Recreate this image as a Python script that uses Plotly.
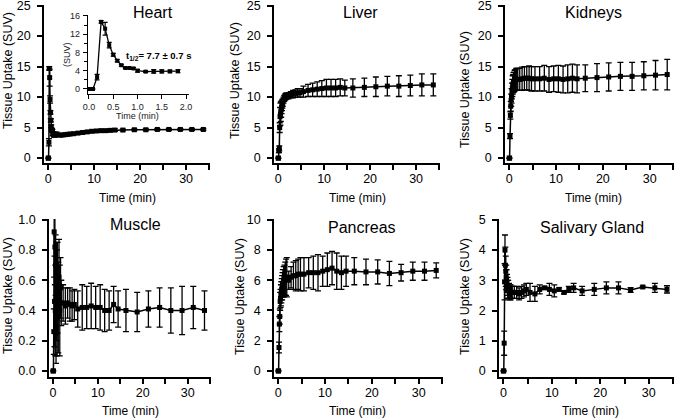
import plotly.graph_objects as go

W, H = 675, 419

# ---------------- data ----------------
time_min = [0, 0.083, 0.167, 0.25, 0.333, 0.417, 0.5, 0.583, 0.667, 0.75, 0.833, 0.917,
            1.0, 1.167, 1.333, 1.5, 1.667, 1.833,
            2.25, 2.75, 3.25, 3.75, 4.25, 4.75,
            5.5, 6.5, 7.5, 8.5, 9.5, 10.5, 11.5, 12.5, 13.5, 14.5,
            16.25, 18.75, 21.25, 23.75, 26.25, 28.75, 31.25, 33.75]

heart = [0, 0, 2.6, 14.7, 13.2, 9.6, 7.5, 6.2, 5.2, 4.6, 4.6, 4.5,
         4.0, 3.8, 3.85, 3.85, 3.85, 3.9,
         3.8, 3.75, 3.8, 3.85, 3.9, 3.95,
         4.0, 4.1, 4.2, 4.3, 4.4, 4.45, 4.5, 4.5, 4.55, 4.6,
         4.6, 4.65, 4.65, 4.7, 4.7, 4.7, 4.7, 4.7]
heart_err = [0, 0, 0.6, 0.3, 1.4, 0.6, 0.3, 0.25, 0.2, 0.15, 0.15, 0.2,
             0.3, 0.15, 0.4, 0.35, 0.3, 0.35,
             0.2, 0.2, 0.2, 0.2, 0.2, 0.2,
             0.2, 0.2, 0.2, 0.2, 0.2, 0.2, 0.2, 0.2, 0.2, 0.2,
             0.15, 0.15, 0.15, 0.15, 0.15, 0.15, 0.15, 0.15]

liver = [0, 0, 1.2, 1.6, 5.0, 6.8, 7.2, 7.6, 8.0, 8.3, 8.6, 8.9,
         9.1, 9.5, 9.8, 10.0, 10.1, 10.2,
         10.2, 10.4, 10.5, 10.6, 10.7, 10.7,
         10.9, 11.1, 11.2, 11.3, 11.4, 11.5, 11.5, 11.5, 11.6, 11.5,
         11.5, 11.6, 11.7, 11.8, 11.8, 11.9, 12.0, 12.0]
liver_err = [0, 0, 0.3, 0.4, 0.8, 1.5, 1.8, 1.6, 1.3, 1.0, 0.8, 0.7,
             0.6, 0.5, 0.5, 0.5, 0.5, 0.5,
             0.5, 0.5, 0.6, 0.6, 0.7, 0.7,
             0.9, 1.0, 1.1, 1.2, 1.3, 1.4, 1.4, 1.4, 1.4, 1.3,
             1.5, 1.5, 1.6, 1.6, 1.7, 1.7, 1.8, 1.8]

kidneys = [0, 0, 3.6, 7.0, 8.5, 9.5, 10.2, 11.0, 11.5, 12.0, 12.2, 12.4,
           12.5, 12.7, 12.8, 12.9, 12.9, 12.9,
           12.9, 13.0, 13.1, 13.1, 13.1, 13.0,
           13.0, 13.0, 13.1, 12.9, 13.0, 13.0, 12.9, 13.0, 13.1, 13.0,
           13.1, 13.2, 13.3, 13.4, 13.4, 13.5, 13.6, 13.7]
kidneys_err = [0, 0, 0.4, 0.6, 0.8, 1.0, 1.2, 1.3, 1.4, 1.5, 1.5, 1.6,
               1.6, 1.7, 1.7, 1.8, 1.8, 1.8,
               1.8, 1.9, 1.9, 1.9, 2.0, 2.0,
               2.0, 2.0, 2.1, 2.1, 2.1, 2.2, 2.2, 2.3, 2.3, 2.3,
               2.2, 2.3, 2.3, 2.3, 2.3, 2.3, 2.4, 2.5]

muscle = [0, 0, 0.26, 0.92, 0.46, 0.82, 0.40, 0.70, 0.25, 0.60, 0.50, 0.35,
          0.55, 0.42, 0.62, 0.40, 0.55, 0.45,
          0.45, 0.43, 0.45, 0.44, 0.43, 0.44,
          0.41, 0.42, 0.42, 0.43, 0.42, 0.42, 0.40, 0.40, 0.44, 0.41,
          0.40, 0.39, 0.41, 0.42, 0.40, 0.40, 0.42, 0.40]
muscle_err = [0, 0, 0.15, 0.3, 0.3, 0.25, 0.3, 0.2, 0.2, 0.25, 0.3, 0.25,
              0.3, 0.3, 0.25, 0.3, 0.2, 0.15,
              0.12, 0.12, 0.1, 0.11, 0.1, 0.1,
              0.12, 0.15, 0.14, 0.15, 0.14, 0.15, 0.14, 0.13, 0.12, 0.12,
              0.14, 0.13, 0.12, 0.13, 0.15, 0.16, 0.14, 0.13]

pancreas = [0, 0, 1.55, 3.1, 3.6, 4.6, 4.8, 5.0, 5.2, 5.4, 5.5, 5.7,
            5.8, 5.9, 6.0, 6.1, 6.2, 6.2,
            6.0, 6.2, 6.3, 6.3, 6.4, 6.4,
            6.4, 6.5, 6.5, 6.5, 6.6, 6.7, 6.8, 6.6, 6.5, 6.6,
            6.6, 6.55, 6.55, 6.45, 6.5, 6.6, 6.6, 6.65]
pancreas_err = [0, 0, 0.35, 0.5, 0.5, 0.6, 0.6, 0.7, 0.7, 0.7, 0.8, 0.8,
                0.9, 1.0, 1.0, 1.1, 1.2, 1.3,
                0.6, 0.7, 0.9, 1.0, 1.0, 1.1,
                1.1, 1.0, 1.1, 1.2, 1.0, 1.1, 1.1, 1.2, 1.1, 1.0,
                0.9, 0.85, 0.8, 0.8, 0.55, 0.6, 0.6, 0.5]

salivary = [0, 0, 0.92, 2.95, 4.0, 3.5, 3.3, 3.1, 3.0, 2.9, 2.8, 2.7,
            2.7, 2.65, 2.6, 2.6, 2.6, 2.6,
            2.6, 2.6, 2.55, 2.6, 2.65, 2.7,
            2.6, 2.55, 2.7, 2.75, 2.7, 2.65, 2.7, 2.6, 2.7, 2.75,
            2.65, 2.7, 2.75, 2.75, 2.68, 2.78, 2.75, 2.7]
salivary_err = [0, 0, 0.4, 0.6, 0.5, 0.6, 0.5, 0.4, 0.35, 0.3, 0.3, 0.3,
                0.3, 0.25, 0.25, 0.25, 0.2, 0.2,
                0.2, 0.2, 0.2, 0.2, 0.2, 0.2,
                0.3, 0.25, 0.15, 0.05, 0.2, 0.2, 0.05, 0.05, 0.1, 0.15,
                0.15, 0.2, 0.2, 0.2, 0.08, 0.03, 0.15, 0.12]

inset_n = 18  # heart points shown in the inset (first 2 minutes)

titles = ["Heart", "Liver", "Kidneys", "Muscle", "Pancreas", "Salivary Gland"]
series = [heart, liver, kidneys, muscle, pancreas, salivary]
errors = [heart_err, liver_err, kidneys_err, muscle_err, pancreas_err, salivary_err]
y_ranges = [[-0.8, 25.1], [-0.8, 25.1], [-0.8, 25.1], [-0.04, 1.005], [-0.4, 10.05], [-0.2, 5.03]]
y_dticks = [5, 5, 5, 0.2, 2, 1]
y_tickformat = ["d", "d", "d", ".1f", "d", "d"]
x_range = [-0.9, 35.2]

# ---------------- layout geometry (pixels) ----------------
# (left, right, top, bottom) of each plot area
boxes = [(44, 210, 5, 163), (274, 440, 5, 163), (505, 674, 5, 163),
         (49, 211, 219, 377), (274, 443, 219, 377), (499, 674, 219, 377)]
title_pos = [(153, 12), (360, 12), (593, 13), (135, 224), (362, 227), (592, 227)]
ytitle_pos = [(8, 71), (235, 81), (465, 90), (8, 296), (240, 297), (465, 297)]
xtitle_pos = [(127, 198), (357, 198), (593, 198), (130, 411), (357, 411), (590, 411)]

FONT = "Liberation Sans, Arial, sans-serif"
BLACK = "#000000"


def px(x):
    return x / W


def py(y):
    return 1 - y / H


fig = go.Figure()
annotations = []
layout = {}

for i in range(6):
    n = i + 1
    xa = "xaxis" if n == 1 else f"xaxis{n}"
    ya = "yaxis" if n == 1 else f"yaxis{n}"
    xr = "x" if n == 1 else f"x{n}"
    yr = "y" if n == 1 else f"y{n}"
    l, r, t, b = boxes[i]
    fig.add_trace(go.Scatter(
        x=time_min, y=series[i], xaxis=xr, yaxis=yr, mode="lines+markers",
        line=dict(color=BLACK, width=1.5),
        marker=dict(symbol="square", size=5, color=BLACK),
        error_y=dict(type="data", array=errors[i], visible=True,
                     color=BLACK, thickness=1.3, width=3),
        showlegend=False, cliponaxis=False))
    layout[xa] = dict(domain=[px(l), px(r)], anchor=yr, range=x_range, automargin=False,
                      showline=True, linecolor=BLACK, linewidth=1.5,
                      ticks="outside", ticklen=5, tickwidth=1.5, tickcolor=BLACK,
                      tickvals=[0, 10, 20, 30], ticklabelstandoff=-2,
                      ticklabeloverflow="allow",
                      minor=dict(tickvals=[5, 15, 25, 35], ticks="outside", ticklen=5,
                                 tickwidth=1.5, tickcolor=BLACK),
                      showgrid=False, zeroline=False,
                      tickfont=dict(family=FONT, size=12.5, color=BLACK))
    layout[ya] = dict(domain=[py(b), py(t)], anchor=xr, range=y_ranges[i], automargin=False,
                      showline=True, linecolor=BLACK, linewidth=1.5,
                      ticks="outside", ticklen=5, tickwidth=1.5, tickcolor=BLACK,
                      dtick=y_dticks[i], tick0=0, tickformat=y_tickformat[i],
                      ticklabelstandoff=4, ticklabeloverflow="allow",
                      showgrid=False, zeroline=False,
                      tickfont=dict(family=FONT, size=12.5, color=BLACK))
    annotations.append(dict(text=titles[i], x=px(title_pos[i][0]), y=py(title_pos[i][1]),
                            xref="paper", yref="paper", showarrow=False,
                            xanchor="center", yanchor="middle",
                            font=dict(family=FONT, size=16, color=BLACK)))
    annotations.append(dict(text="Tissue Uptake (SUV)", x=px(ytitle_pos[i][0]),
                            y=py(ytitle_pos[i][1]), xref="paper", yref="paper",
                            showarrow=False, textangle=-90,
                            xanchor="center", yanchor="middle",
                            font=dict(family=FONT, size=12.5, color=BLACK)))
    annotations.append(dict(text="Time (min)", x=px(xtitle_pos[i][0]),
                            y=py(xtitle_pos[i][1]), xref="paper", yref="paper",
                            showarrow=False, xanchor="center", yanchor="middle",
                            font=dict(family=FONT, size=12, color=BLACK)))

# ---------------- inset (heart, first 2 min) ----------------
fig.add_trace(go.Scatter(
    x=time_min[:inset_n], y=heart[:inset_n], xaxis="x7", yaxis="y7",
    mode="lines+markers", line=dict(color=BLACK, width=1.3),
    marker=dict(symbol="square", size=4, color=BLACK),
    error_y=dict(type="data", array=heart_err[:inset_n], visible=True,
                 color=BLACK, thickness=1.2, width=2.5),
    showlegend=False, cliponaxis=False))
layout["xaxis7"] = dict(domain=[px(88), px(189)], anchor="y7", range=[-0.02, 2.06],
                        automargin=False,
                        showline=True, linecolor=BLACK, linewidth=1.2,
                        ticks="outside", ticklen=4, tickwidth=1.2, tickcolor=BLACK,
                        tickvals=[0, 0.5, 1.0, 1.5, 2.0], tickformat=".1f",
                        showgrid=False, zeroline=False, ticklabelstandoff=0,
                        tickfont=dict(family=FONT, size=9, color="#222222"))
layout["yaxis7"] = dict(domain=[py(94), py(15)], anchor="x7", range=[-1.1, 16.2],
                        automargin=False,
                        showline=True, linecolor=BLACK, linewidth=1.2,
                        ticks="outside", ticklen=4, tickwidth=1.2, tickcolor=BLACK,
                        tickvals=[0, 4, 8, 12, 16],
                        minor=dict(tickvals=[2, 6, 10, 14], ticks="outside", ticklen=3,
                                   tickwidth=1, tickcolor=BLACK),
                        showgrid=False, zeroline=False, ticklabelstandoff=1,
                        tickfont=dict(family=FONT, size=9, color="#222222"))
annotations.append(dict(text="(SUV)", x=px(67), y=py(55), xref="paper", yref="paper",
                        showarrow=False, textangle=-90, xanchor="center", yanchor="middle",
                        font=dict(family=FONT, size=9, color="#222222")))
annotations.append(dict(text="Time (min)", x=px(137), y=py(116), xref="paper", yref="paper",
                        showarrow=False, xanchor="center", yanchor="middle",
                        font=dict(family=FONT, size=9, color="#222222")))
annotations.append(dict(text="<b>t<sub>1/2</sub>= 7.7 ± 0.7 s</b>", x=px(158), y=py(56),
                        xref="paper", yref="paper", showarrow=False,
                        xanchor="center", yanchor="middle",
                        font=dict(family=FONT, size=9.5, color=BLACK)))

fig.update_layout(width=W, height=H, margin=dict(l=0, r=0, t=0, b=0),
                  paper_bgcolor="white", plot_bgcolor="white",
                  annotations=annotations, **layout)

fig.write_html("out.html", config={"displayModeBar": False},
               post_script="document.body.style.margin='0';"
                           "document.body.style.overflow='hidden';")
